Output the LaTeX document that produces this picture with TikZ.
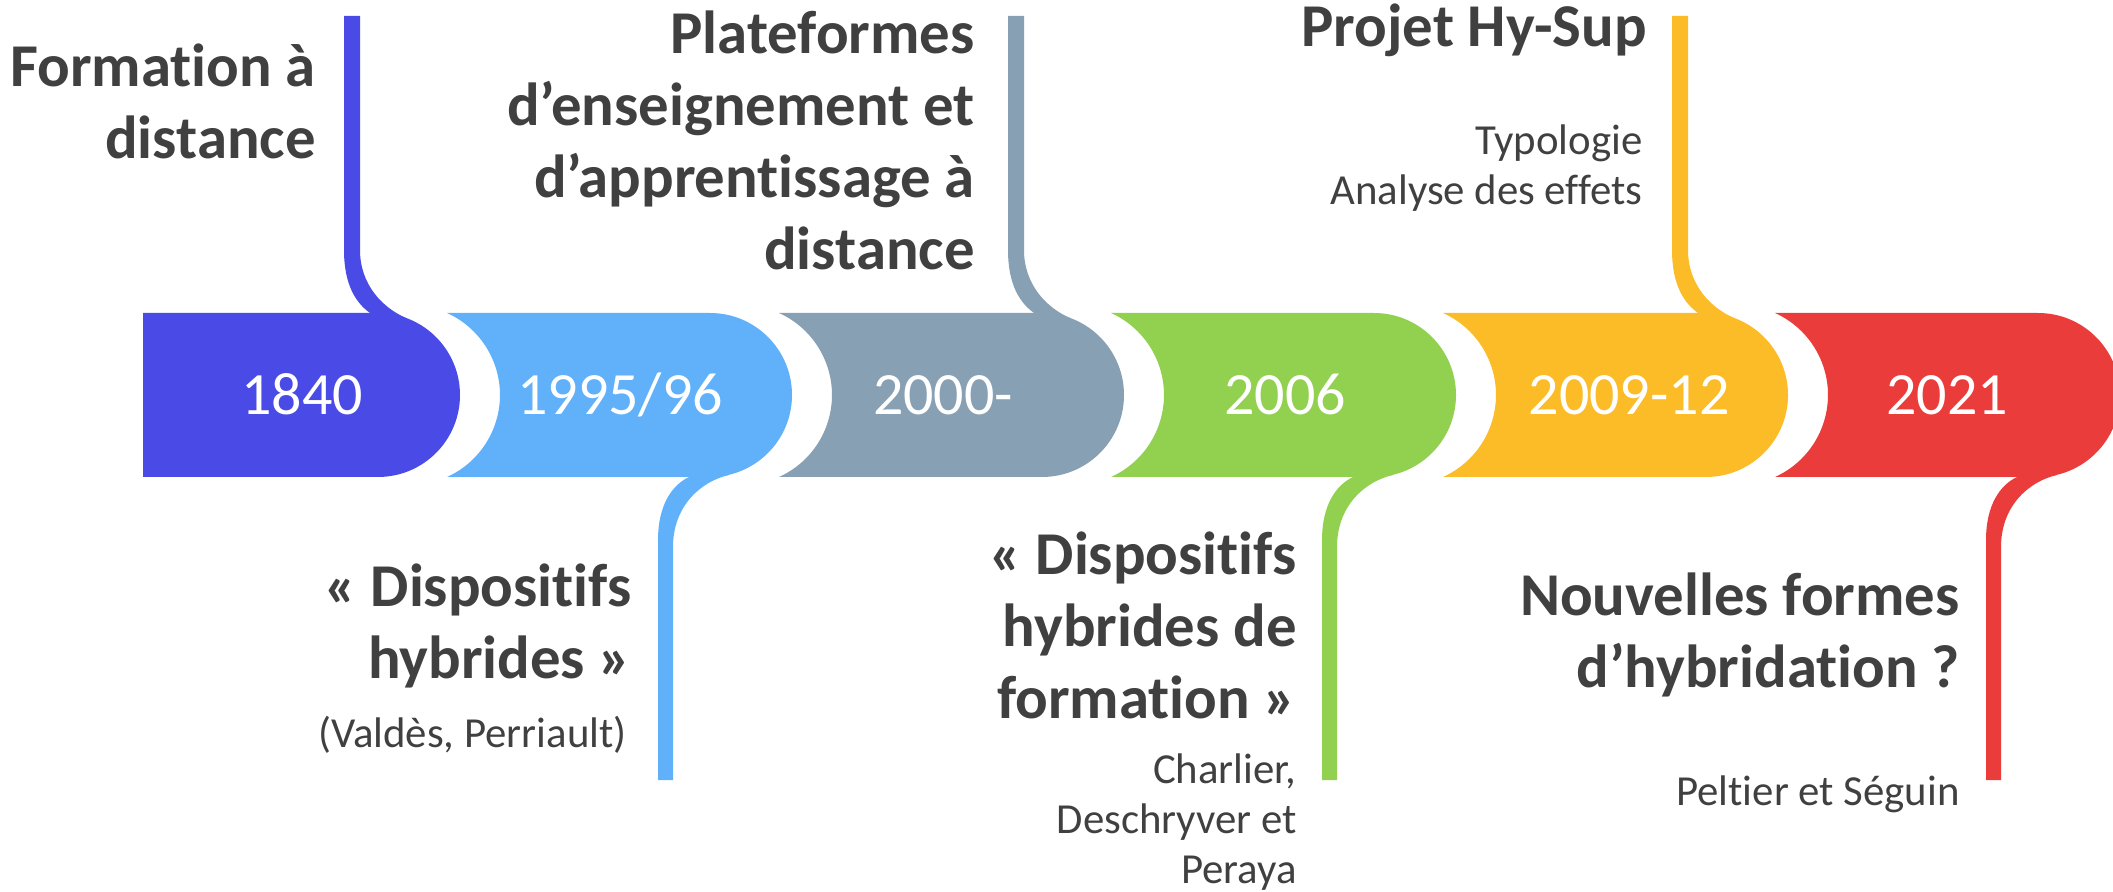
\documentclass[tikz,border=0pt]{standalone}
\usepackage{fontspec}
\setmainfont{Carlito}[Ligatures=NoCommon]
\definecolor{c1840}{HTML}{4A4BE6}
\definecolor{c1995}{HTML}{60B1FA}
\definecolor{c2000}{HTML}{87A0B4}
\definecolor{c2006}{HTML}{92D050}
\definecolor{c2009}{HTML}{FBBC27}
\definecolor{c2021}{HTML}{EB3C3C}
\definecolor{txtgray}{HTML}{404040}
\tikzset{every picture/.append style={x=0.5pt, y=-0.5pt}}
\tikzset{
    title/.style={anchor=base east, align=right, inner sep=0pt, text=txtgray,
    	font=\bfseries\fontsize{30.4}{36}\selectfont},
    sub/.style={anchor=base east, align=right, inner sep=0pt, text=txtgray,
    	font=\fontsize{21.4}{25}\selectfont},
    year/.style={anchor=base, inner sep=0pt, text=white,
    	font=\fontsize{30}{36}\selectfont}
}

\begin{document}
\begin{tikzpicture}
  \useasboundingbox (0,0) rectangle (2113,892);
  \clip (0,0) rectangle (2113,892);

  % stems above and below the band
  \foreach \c/\col in {378/c1840, 1042/c2000, 1706/c2009}
    \fill[\col] ({\c-34},16) -- ({\c-34},250) .. controls ({\c-34},285) and ({\c-22},303) .. ({\c-8},313)
      -- ({\c+28},318) .. controls ({\c+5},308) and ({\c-18},285) .. ({\c-18},250) -- ({\c-18},16) -- cycle;
  \foreach \c/\col in {710/c1995, 1374/c2006, 2038/c2021}
    \fill[\col] ({\c-52},780) -- ({\c-52},540) .. controls ({\c-52},505) and ({\c-38},485) .. ({\c-21},477)
      -- ({\c+19},475) .. controls ({\c-8},481) and ({\c-37},505) .. ({\c-37},547) -- ({\c-37},780) -- cycle;

  % the band
  \fill[c1840] (143,313) -- (378,313) arc(-90:90:82) -- (143,477) -- cycle;
  \foreach \c/\p/\col in {710/378/c1995, 1042/710/c2000, 1374/1042/c2006, 1706/1374/c2009, 2038/1706/c2021}
    \fill[\col] ({\p+69},477) arc(65.7:-65.7:90) -- (\c,313) arc(-90:90:82) -- cycle;

  \node (y1840) [year] at (302,415) {1840};
  \node (y1995) [year] at (620,415) {1995/96};
  \node (y2000) [year] at (943,415) {2000-};
  \node (y2006) [year] at (1285,415) {2006};
  \node (y2009) [year] at (1629,415) {2009-12};
  \node (y2021) [year] at (1947,415) {2021};

  % texts: the point is the last line's baseline
  \node (fad) [title] at (316,159) {Formation à\\distance};
  \node (plat) [title] at (975,270) {Plateformes\\d’enseignement et\\d’apprentissage à\\distance};
  \node (hysup) [title] at (1647,47) {Projet Hy-Sup};
  \node (hysup_s) [sub] at (1643,205) {Typologie\\Analyse des effets};
  \node (dh) [title] at (632,678) {« Dispositifs\\hybrides »};
  \node (dh_s) [sub] at (627,747) {(Valdès, Perriault)};
  \node (dhf) [title] at (1297,718) {« Dispositifs\\hybrides de\\formation »};
  \node (dhf_s) [sub] at (1297,883) {Charlier,\\Deschryver et\\Peraya};
  \node (nfh) [title] at (1960,687) {Nouvelles formes\\d’hybridation ?};
  \node (nfh_s) [sub] at (1960,805) {Peltier et Séguin};
\end{tikzpicture}
\end{document}
